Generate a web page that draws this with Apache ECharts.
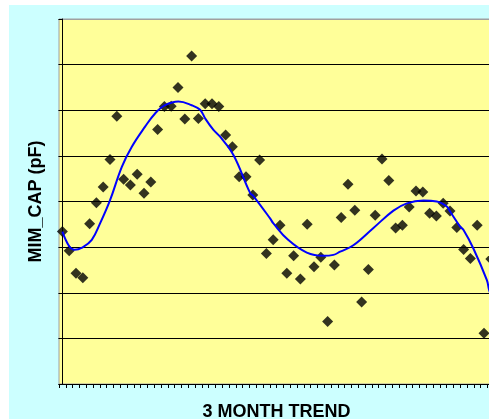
<!DOCTYPE html>
<html>
<head>
<meta charset="utf-8">
<script src="https://cdn.jsdelivr.net/npm/echarts@6/dist/echarts.min.js"></script>
<style>
html,body{margin:0;padding:0;background:#ffffff;width:489px;height:419px;overflow:hidden}
#c{position:absolute;left:9px;top:5px;width:480px;height:414px}
</style>
</head>
<body>
<div id="c"></div>
<script>
// sample categories (no visible labels in the reference)
const categories = ['1','2','3','4','5','6','7','8','9','10','11','12','13','14','15','16',
  '17','18','19','20','21','22','23','24','25','26','27','28','29','30','31','32',
  '33','34','35','36','37','38','39','40','41','42','43','44','45','46','47','48',
  '49','50','51','52','53','54','55','56','57','58','59','60','61','62','63','64'];

// MIM_CAP readings (grid units, 0..8)
const mimCap = [3.34, 2.92, 2.43, 2.33, 3.51, 3.97, 4.32, 4.92, 5.87, 4.49, 4.36, 4.60, 4.18, 4.43, 5.58, 6.08,
  6.09, 6.50, 5.81, 7.19, 5.82, 6.14, 6.14, 6.08, 5.46, 5.20, 4.54, 4.54, 4.14, 4.91, 2.86, 3.16,
  3.48, 2.43, 2.81, 2.30, 3.50, 2.57, 2.78, 1.37, 2.61, 3.65, 4.38, 3.81, 1.80, 2.51, 3.70, 4.93,
  4.46, 3.42, 3.48, 3.88, 4.23, 4.21, 3.74, 3.68, 3.96, 3.79, 3.43, 2.95, 2.75, 3.48, 1.11, 2.74];

// polynomial trend line (x = sample index)
const trendX = [0, 1.0, 1.8, 2.9, 4.32, 5.54, 7.01, 8.74, 10.21, 12.16, 13.63, 15.1, 17.06, 19.03, 20.25, 21.0, 22.21,
  23.19, 25.15, 27.6, 28.09, 30.54, 31.03, 33.19, 35.94, 38.38, 39.85, 40.84, 42.79, 45.74, 48.68, 50.65, 53.09,
  55.06, 56.53, 57.01, 58.49, 58.97, 60.44, 62.41, 62.75, 63];
const trendY = [3.34, 3.02, 2.94, 2.99, 3.16, 3.52, 4.03, 4.76, 5.20, 5.64, 5.93, 6.11, 6.19, 6.11, 6.01, 5.82, 5.57,
  5.42, 5.02, 4.19, 4.12, 3.63, 3.52, 3.16, 2.88, 2.81, 2.83, 2.90, 3.04, 3.42, 3.80, 3.96, 4.02,
  4.00, 3.89, 3.78, 3.45, 3.38, 2.97, 2.28, 2.06, 1.95];

const yMin = 0, yMax = 8, yStep = 1;

const chart = echarts.init(document.getElementById('c'), null, {renderer: 'canvas'});
const gridLineColors = ['#000000','#000000','#000000','#000000','#000000','#000000','#000000','#000000','#A0A0A0'];
const titleFont = {fontFamily: 'Liberation Sans, Arial, sans-serif', fontWeight: 'bold', fontSize: 18, color: '#000000'};

chart.setOption({
  animation: false,
  backgroundColor: '#CCFFFF',
  grid: {
    left: 50, top: 14, width: 435.2, height: 365,
    show: true, backgroundColor: '#FFFF99', borderColor: '#A0A0A0', borderWidth: 1,
    containLabel: false, outerBoundsMode: 'none'
  },
  xAxis: [{
    type: 'category', data: categories, boundaryGap: true,
    axisLine: {show: true, lineStyle: {color: '#000000', width: 1}},
    axisTick: {show: true, interval: 0, length: 4, inside: false, lineStyle: {color: '#000000', width: 1}},
    axisLabel: {show: false},
    splitLine: {show: false},
    name: '3 MONTH TREND', nameLocation: 'middle', nameGap: 19, nameTextStyle: titleFont
  }, {
    type: 'value', min: -0.5, max: 63.5, show: false
  }],
  yAxis: {
    type: 'value', min: yMin, max: yMax, interval: yStep,
    axisLine: {show: true, lineStyle: {color: '#000000', width: 1}},
    axisTick: {show: true, length: 4, lineStyle: {color: '#000000', width: 1}},
    axisLabel: {show: false},
    splitLine: {show: true, lineStyle: {color: gridLineColors, width: 1}},
    name: 'MIM_CAP (pF)', nameLocation: 'middle', nameGap: 14, nameRotate: 90, nameTextStyle: titleFont
  },
  series: [{
    type: 'scatter', xAxisIndex: 0, yAxisIndex: 0, data: mimCap,
    symbol: 'diamond', symbolSize: 11,
    itemStyle: {color: '#000000'}
  }, {
    type: 'line', xAxisIndex: 1, yAxisIndex: 0,
    data: trendX.map((x, i) => [x, trendY[i]]),
    smooth: 0.4, showSymbol: false, symbol: 'none',
    lineStyle: {color: '#0000FF', width: 2},
    z: 5
  }]
});
</script>
</body>
</html>
